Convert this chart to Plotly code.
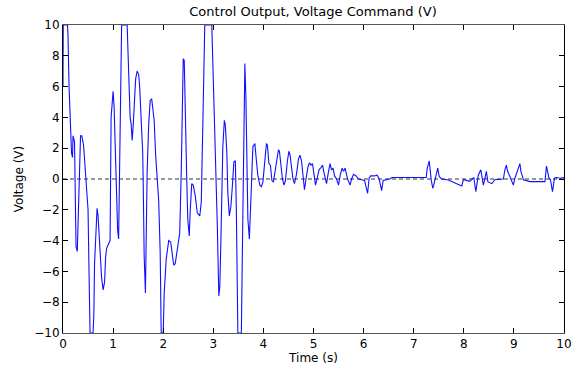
import plotly.graph_objects as go

# Time (s) and control voltage (V)
time_s = [
    0.00, 0.005, 0.09, 0.10, 0.12, 0.16, 0.17, 0.19, 0.20, 0.23, 0.245, 0.26, 0.285, 0.305, 0.33, 0.35,
    0.375, 0.41, 0.43, 0.46, 0.48, 0.50, 0.52, 0.54, 0.60, 0.615, 0.63, 0.66, 0.68, 0.70, 0.72, 0.755,
    0.77, 0.80, 0.83, 0.85, 0.87, 0.91, 0.94, 0.96, 0.985, 1.00, 1.02, 1.04, 1.07, 1.09, 1.11, 1.125,
    1.15, 1.17, 1.28, 1.29, 1.32, 1.34, 1.36, 1.38, 1.40, 1.43, 1.45, 1.48, 1.51, 1.53, 1.55, 1.57,
    1.59, 1.60, 1.62, 1.645, 1.655, 1.68, 1.71, 1.74, 1.77, 1.82, 1.85, 1.88, 1.91, 1.94, 1.96, 2.00,
    2.02, 2.06, 2.11, 2.15, 2.21, 2.24, 2.28, 2.33, 2.36, 2.38, 2.40, 2.42, 2.44, 2.47, 2.49, 2.52,
    2.54, 2.57, 2.60, 2.64, 2.68, 2.73, 2.76, 2.79, 2.83, 2.97, 2.99, 3.02, 3.04, 3.08, 3.11, 3.13,
    3.15, 3.17, 3.19, 3.22, 3.24, 3.27, 3.29, 3.32, 3.35, 3.38, 3.41, 3.44, 3.46, 3.49, 3.56, 3.58,
    3.60, 3.62, 3.63, 3.65, 3.67, 3.69, 3.72, 3.74, 3.76, 3.79, 3.83, 3.86, 3.89, 3.93, 3.96, 3.99,
    4.03, 4.06, 4.08, 4.11, 4.14, 4.17, 4.20, 4.23, 4.27, 4.30, 4.32, 4.35, 4.38, 4.41, 4.44, 4.48,
    4.51, 4.53, 4.56, 4.59, 4.62, 4.66, 4.70, 4.73, 4.76, 4.79, 4.82, 4.85, 4.89, 4.92, 4.95, 4.98,
    5.01, 5.04, 5.07, 5.11, 5.14, 5.18, 5.21, 5.26, 5.29, 5.33, 5.36, 5.39, 5.42, 5.46, 5.50, 5.53,
    5.57, 5.60, 5.63, 5.66, 5.68, 5.73, 5.76, 5.80, 5.85, 5.90, 5.95, 6.02, 6.04, 6.08, 6.11, 6.14,
    6.21, 6.27, 6.31, 6.36, 6.39, 6.45, 6.52, 6.57, 7.25, 7.27, 7.31, 7.35, 7.38, 7.40, 7.44, 7.48,
    7.51, 7.56, 7.69, 7.86, 7.96, 7.99, 8.02, 8.12, 8.20, 8.24, 8.29, 8.34, 8.36, 8.39, 8.42, 8.45,
    8.48, 8.56, 8.62, 8.72, 8.79, 8.82, 8.85, 8.87, 8.91, 8.95, 8.99, 9.02, 9.07, 9.12, 9.14, 9.19,
    9.32, 9.62, 9.65, 9.70, 9.73, 9.77, 9.81, 9.85, 9.92, 10.00,
]
voltage_v = [
    6.0, 10.0, 10.0, 9.3, 6.1, 3.2, 1.7, 1.4, 2.8, 2.4, -2.0, -4.4, -4.7, -2.7, 1.2, 2.8,
    2.8, 2.2, 1.3, 0.0, -0.8, -2.0, -6.1, -10.0, -10.0, -8.9, -5.5, -3.5, -1.9, -2.4, -3.6, -5.4,
    -6.4, -7.2, -6.7, -5.1, -4.5, -4.2, -4.0, 4.0, 5.7, 5.7, 4.7, 2.0, -2.0, -3.3, -3.9, 0.0,
    4.2, 10.0, 10.0, 8.8, 6.4, 4.0, 3.6, 2.5, 3.4, 5.3, 6.5, 7.0, 6.8, 6.0, 4.8, 3.1,
    1.8, 0.0, -5.0, -7.4, -5.0, 0.5, 3.5, 5.1, 5.2, 3.8, 1.5, 0.0, -1.4, -4.8, -10.0, -10.0,
    -7.4, -5.2, -4.0, -4.1, -5.6, -5.5, -4.6, -3.5, 0.5, 4.3, 7.8, 7.7, 3.8, 0.0, -2.6, -3.7,
    -2.0, -0.3, -0.4, -1.1, -2.2, -2.4, -1.5, 3.0, 10.0, 10.0, 7.7, 5.6, 2.1, -3.0, -7.6, -7.0,
    -4.2, 0.1, 2.1, 3.8, 3.5, 1.7, -0.9, -2.4, -1.8, -0.5, 1.1, 1.2, -2.0, -10.0, -10.0, -4.8,
    1.7, 7.1, 7.5, 5.4, 0.6, -2.6, -3.9, -2.5, -0.5, 2.1, 2.3, 1.2, 0.2, -0.4, -0.5, -0.2,
    1.2, 2.3, 2.2, 1.0, 0.9, -0.1, -0.2, 0.5, 1.5, 1.9, 1.8, 0.9, 0.0, -0.4, -0.1, 1.2,
    1.8, 1.6, 0.8, 0.0, -0.3, 0.3, 1.3, 1.55, 1.2, 0.4, -0.7, 0.0, 0.8, 1.05, 0.9, 1.0,
    0.3, -0.4, 0.0, 0.6, 0.7, 0.9, 0.4, -0.3, 0.3, 1.0, 0.6, 0.7, 0.2, 0.0, -0.4, 0.2,
    0.7, 0.5, 0.7, 0.3, 0.0, -0.4, 0.0, 0.3, 0.2, 0.0, -0.05, -0.1, -0.4, -0.93, 0.05, 0.2,
    0.2, 0.25, 0.0, -0.75, -0.1, -0.05, 0.0, 0.1, 0.1, 0.7, 1.17, -0.06, -0.6, -0.4, 0.26, 0.7,
    0.15, 0.0, -0.06, -0.3, -0.45, -0.06, -0.06, -0.15, 0.1, -0.82, 0.26, 0.6, 0.26, -0.4, 0.0, 0.5,
    -0.17, -0.3, -0.05, 0.0, 0.0, 0.6, 0.9, 0.55, 0.25, 0.0, -0.4, 0.05, 0.6, 1.0, 0.5, -0.05,
    -0.17, -0.17, 0.84, 0.05, -0.05, -0.82, 0.05, 0.1, 0.05, 0.1,
]

x_ticks = [0, 1, 2, 3, 4, 5, 6, 7, 8, 9, 10]
y_ticks = [-10, -8, -6, -4, -2, 0, 2, 4, 6, 8, 10]

FONT = "DejaVu Sans, Verdana, sans-serif"

fig = go.Figure()
fig.add_hline(y=0, line=dict(color="#333333", width=1, dash="4px,3px"), layer="below")
fig.add_trace(go.Scatter(
    x=time_s, y=voltage_v, mode="lines",
    line=dict(color="#1010FF", width=1.1),
    cliponaxis=True, showlegend=False,
))

axis_common = dict(
    showline=True, mirror="ticks", ticks="inside", ticklen=5,
    tickcolor="#000000", linewidth=1, showgrid=False, zeroline=False,
    automargin=False,
    tickfont=dict(family=FONT, size=12, color="#000000"),
)
fig.update_xaxes(range=[0, 10], tickvals=x_ticks, linecolor="#555555",
                 title=dict(text="Time (s)", font=dict(family=FONT, size=12, color="#000000"), standoff=2),
                 **axis_common)
fig.update_yaxes(range=[-10, 10], tickvals=y_ticks, linecolor="#000000",
                 title=dict(text="Voltage (V)", font=dict(family=FONT, size=12, color="#000000"), standoff=8),
                 **axis_common)

fig.update_layout(
    width=572, height=370,
    margin=dict(l=63, r=8, t=25, b=37),
    paper_bgcolor="#FFFFFF", plot_bgcolor="#FFFFFF",
    title=dict(text="Control Output, Voltage Command (V)", x=313 / 572, xanchor="center",
               y=1 - 11 / 370, yanchor="middle", yref="container",
               font=dict(family=FONT, size=13, color="#000000")),
    font=dict(family=FONT),
)

fig.write_html("out.html")
